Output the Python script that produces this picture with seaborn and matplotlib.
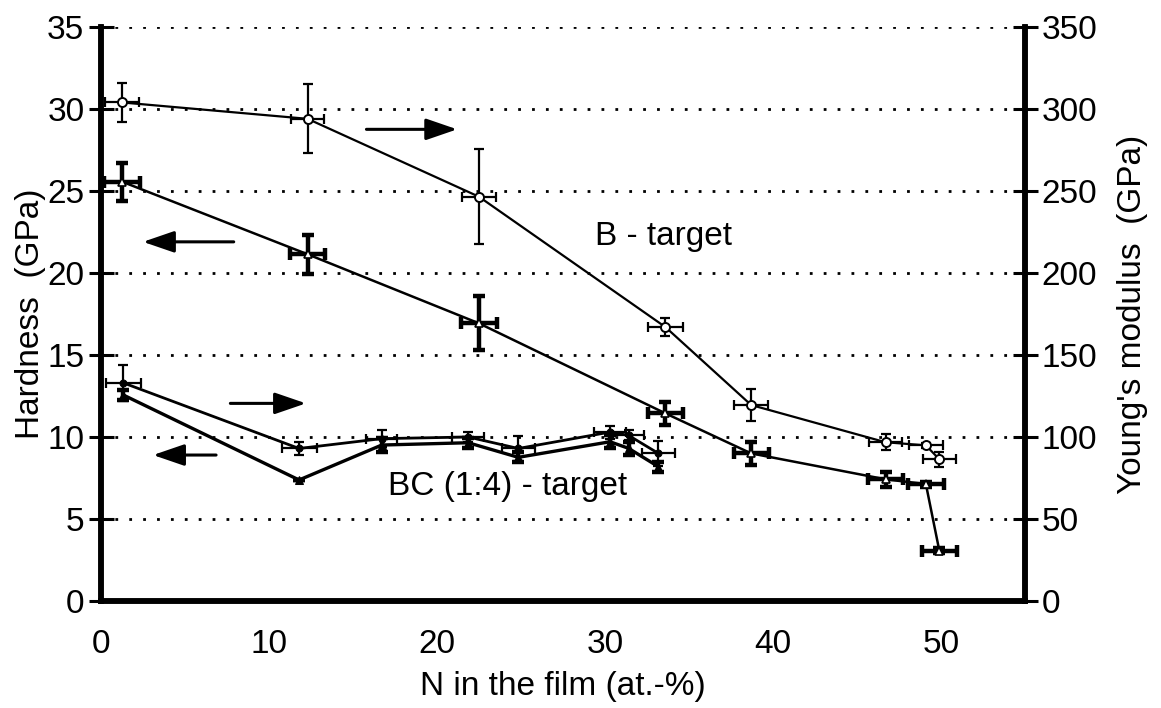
import matplotlib
matplotlib.use("Agg")
import matplotlib.pyplot as plt
import seaborn as sns
import pandas as pd

sns.set_theme(style="white")
plt.rcParams["font.family"] = ["Liberation Sans", "DejaVu Sans"]
plt.rcParams["text.color"] = "black"
plt.rcParams["axes.labelcolor"] = "black"
plt.rcParams["xtick.color"] = "black"
plt.rcParams["ytick.color"] = "black"

# B-target films
b_n = [1.25, 12.3, 22.5, 33.6, 38.7, 46.7, 49.1, 49.9]
b_n_err = [1.0, 1.0, 1.0, 1.05, 1.0, 1.0, 1.0, 1.0]
b_modulus = [304, 294, 246.5, 167, 119.5, 96.8, 94.9, 86.4]
b_modulus_err = [12, 21, 29, 5.5, 10, 5, 1.5, 4.5]
b_hardness = [25.57, 21.14, 16.93, 11.44, 9.0, 7.42, 7.13, 3.07]
b_hardness_err = [1.15, 1.2, 1.65, 0.7, 0.7, 0.45, 0.15, 0.15]
b_hn_err = [1.05, 1.05, 1.05, 1.05, 1.05, 1.05, 1.05, 1.05]

# BC (1:4)-target films
bc_n = [1.33, 11.79, 16.71, 21.86, 24.84, 30.3, 31.4, 33.18]
bc_n_err = [1.03, 1.04, 0.93, 0.95, 1.0, 0.95, 0.92, 0.96]
bc_modulus = [133, 93, 99, 100, 93, 103, 101, 90]
bc_modulus_err = [11, 4, 5, 3, 7.5, 4, 3, 7.5]
bc_hardness = [12.56, 7.38, 9.51, 9.65, 8.76, 9.71, 9.31, 8.19]
bc_hardness_err = [0.3, 0.0, 0.4, 0.3, 0.3, 0.4, 0.4, 0.3]

x_ticks = [0, 10, 20, 30, 40, 50]
left_ticks = [0, 5, 10, 15, 20, 25, 30, 35]
right_ticks = [0, 50, 100, 150, 200, 250, 300, 350]

FS = 24

fig = plt.figure(figsize=(11.61, 7.08), dpi=100)
ax = fig.add_axes([101 / 1161, 1 - 601 / 708, 924 / 1161, 574 / 708])
ax2 = ax.twinx()

# dotted horizontal grid
for v in left_ticks[1:]:
    ax.axhline(v, color="black", lw=2.0, ls=(0, (1, 4)), zorder=0)

df_bh = pd.DataFrame({"n": b_n, "v": b_hardness})
df_bch = pd.DataFrame({"n": bc_n, "v": bc_hardness})
df_bm = pd.DataFrame({"n": b_n, "v": b_modulus})
df_bcm = pd.DataFrame({"n": bc_n, "v": bc_modulus})

# hardness (left axis)
ax.errorbar(b_n, b_hardness, yerr=b_hardness_err, xerr=b_hn_err, fmt="none",
            ecolor="black", elinewidth=3.2, capsize=4.5, capthick=3.2, zorder=2)
sns.lineplot(data=df_bh, x="n", y="v", ax=ax, sort=False, estimator=None,
             color="black", lw=1.8, marker="^", markersize=6,
             markerfacecolor="white", markeredgecolor="black", markeredgewidth=1.2,
             zorder=3)
ax.errorbar(bc_n, bc_hardness, yerr=bc_hardness_err, fmt="none",
            ecolor="black", elinewidth=3.2, capsize=4.0, capthick=3.2, zorder=2)
sns.lineplot(data=df_bch, x="n", y="v", ax=ax, sort=False, estimator=None,
             color="black", lw=2.4, marker="^", markersize=6,
             markerfacecolor="black", markeredgecolor="black", zorder=3)

# Young's modulus (right axis)
ax2.errorbar(b_n, b_modulus, yerr=b_modulus_err, xerr=b_n_err, fmt="none",
             ecolor="black", elinewidth=1.6, capsize=3.5, capthick=1.6, zorder=2)
sns.lineplot(data=df_bm, x="n", y="v", ax=ax2, sort=False, estimator=None,
             color="black", lw=1.6, marker="o", markersize=6.5,
             markerfacecolor="white", markeredgecolor="black", markeredgewidth=1.4,
             zorder=3)
ax2.errorbar(bc_n, bc_modulus, yerr=bc_modulus_err, xerr=bc_n_err, fmt="none",
             ecolor="black", elinewidth=1.6, capsize=3.5, capthick=1.6, zorder=2)
sns.lineplot(data=df_bcm, x="n", y="v", ax=ax2, sort=False, estimator=None,
             color="black", lw=2.0, marker="o", markersize=5,
             markerfacecolor="black", markeredgecolor="black", zorder=3)

ax.set_xlim(0, 55)
ax.set_ylim(0, 35)
ax2.set_ylim(0, 350)
ax.set_xticks(x_ticks)
ax.set_yticks(left_ticks)
ax2.set_yticks(right_ticks)

for a in (ax, ax2):
    a.set_xlabel("")
    a.set_ylabel("")
    a.tick_params(axis="both", direction="inout", length=18, width=2.2,
                  labelsize=FS, colors="black", pad=6)
    a.spines["top"].set_visible(False)
    for s in ("left", "right", "bottom"):
        a.spines[s].set_linewidth(4)
        a.spines[s].set_color("black")
        a.spines[s].set_visible(True)
    a.grid(False)

ax.tick_params(axis="x", pad=11)
ax.tick_params(axis="y", pad=3)
ax2.tick_params(axis="y", pad=3)

# direction arrows
arrow = dict(arrowstyle="-|>,head_length=1.6,head_width=0.55", color="black", lw=2.2,
             shrinkA=0, shrinkB=0)
ax.annotate("", xy=(21.2, 28.76), xytext=(15.8, 28.76), arrowprops=arrow)
ax.annotate("", xy=(2.5, 21.9), xytext=(7.9, 21.9), arrowprops=arrow)
ax.annotate("", xy=(12.2, 12.05), xytext=(7.7, 12.05), arrowprops=arrow)
ax.annotate("", xy=(3.1, 8.9), xytext=(6.85, 8.9), arrowprops=arrow)

ax.text(33.5, 22.2, "B - target", fontsize=FS, ha="center", va="center", color="black")
ax.text(24.2, 6.97, "BC (1:4) - target", fontsize=FS, ha="center", va="center",
        color="black")

fig.text(563 / 1161, 1 - 687 / 708, "N in the film (at.-%)", fontsize=FS,
         ha="center", va="center", color="black")
fig.text(31 / 1161, 1 - 314 / 708, "Hardness  (GPa)", fontsize=FS,
         ha="center", va="center", rotation=90, color="black")
fig.text(1133 / 1161, 1 - 314 / 708, "Young's modulus  (GPa)", fontsize=FS,
         ha="center", va="center", rotation=90, color="black")

fig.savefig("out.png", dpi=100, facecolor="white")
